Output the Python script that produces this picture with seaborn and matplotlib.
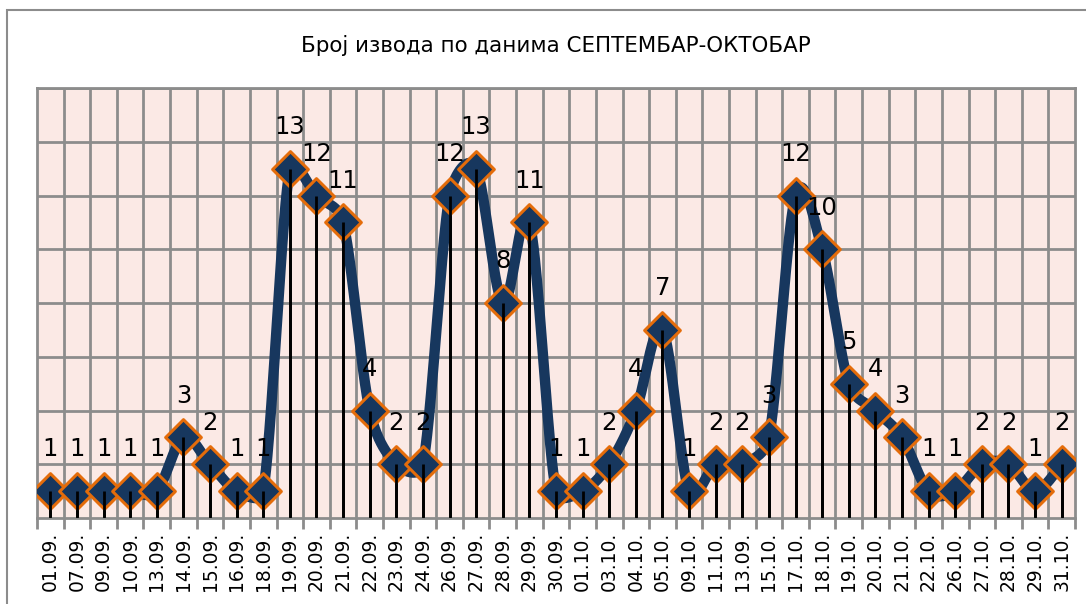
import numpy as np
import pandas as pd
import matplotlib
matplotlib.use('Agg')
import matplotlib.pyplot as plt
import seaborn as sns
from matplotlib.patches import Rectangle

# Dates and number of extracts per day
dates = ['01.09.', '07.09.', '09.09.', '10.09.', '13.09.', '14.09.', '15.09.', '16.09.',
         '18.09.', '19.09.', '20.09.', '21.09.', '22.09.', '23.09.', '24.09.', '26.09.',
         '27.09.', '28.09.', '29.09.', '30.09.', '01.10.', '03.10.', '04.10.', '05.10.',
         '09.10.', '11.10.', '13.09.', '15.10.', '17.10.', '18.10.', '19.10.', '20.10.',
         '21.10.', '22.10.', '26.10.', '27.10.', '28.10.', '29.10.', '31.10.']
counts = [1, 1, 1, 1, 1, 3, 2, 1, 1, 13, 12, 11, 4, 2, 2, 12, 13, 8, 11, 1,
          1, 2, 4, 7, 1, 2, 2, 3, 12, 10, 5, 4, 3, 1, 1, 2, 2, 1, 2]

title = 'Број извода по данима СЕПТЕМБАР-ОКТОБАР'

navy = '#17375E'
orange = '#E46C0A'
grid_gray = '#8C8C8C'
bg_pink = '#FBE9E5'


# Excel-like smoothed line: cubic bezier, tension 1/6, arms capped at half the segment
def smooth_curve(xs, ys, kx, ky, steps=40):
    pts = np.column_stack([np.asarray(xs) * kx, np.asarray(ys) * ky]).astype(float)
    n = len(pts)
    out = []
    for i in range(n - 1):
        p0 = pts[max(i - 1, 0)]
        p1 = pts[i]
        p2 = pts[i + 1]
        p3 = pts[min(i + 2, n - 1)]
        d12 = np.linalg.norm(p2 - p1)
        d02 = np.linalg.norm(p2 - p0)
        d13 = np.linalg.norm(p3 - p1)
        f1 = 1 / 6 if d02 / 6 < d12 / 2 else d12 / (2 * d02)
        f2 = 1 / 6 if d13 / 6 < d12 / 2 else d12 / (2 * d13)
        c1 = p1 + (p2 - p0) * f1
        c2 = p2 - (p3 - p1) * f2
        t = np.linspace(0, 1, steps)[:, None]
        seg = ((1 - t) ** 3) * p1 + 3 * ((1 - t) ** 2) * t * c1 + 3 * (1 - t) * t ** 2 * c2 + t ** 3 * p2
        out.append(seg if i == 0 else seg[1:])
    out = np.vstack(out)
    return out[:, 0] / kx, out[:, 1] / ky


df = pd.DataFrame({'pos': np.arange(len(dates)), 'date': dates, 'count': counts})

sns.set_style('white')
plt.rcParams['font.family'] = ['DejaVu Sans']
plt.rcParams['text.color'] = 'black'
plt.rcParams['xtick.color'] = 'black'
plt.rcParams['xtick.labelcolor'] = 'black'

fig = plt.figure(figsize=(10.86, 6.04), dpi=100)
ax = fig.add_axes([37 / 1086, 1 - 518 / 604, (1075 - 37) / 1086, (518 - 88) / 604])
ax.set_facecolor(bg_pink)

# outer chart border
fig.patches.append(Rectangle((7 / 1086, -0.05), 1.1, 1 - 10 / 604 + 0.05,
                             transform=fig.transFigure, fill=False,
                             edgecolor='#8C8C8C', linewidth=1.5, zorder=0))

# grid
for yv in np.arange(2, 17, 2):
    ax.axhline(yv, color=grid_gray, linewidth=2, zorder=1)
for xv in np.arange(0.5, len(dates) - 0.5, 1):
    ax.axvline(xv, color=grid_gray, linewidth=2, zorder=1)

# drop lines
ax.vlines(df['pos'], 0, df['count'], color='black', linewidth=2, zorder=2)

# smoothed line (pixels per unit: x 1038/39, y 430/16)
sx, sy = smooth_curve(df['pos'], df['count'], 1038 / 39, 430 / 16)
ax.plot(sx, sy, color=navy, linewidth=7.5, solid_capstyle='round', zorder=3)

# markers
sns.scatterplot(data=df, x='pos', y='count', marker='D', s=330, color=navy,
                edgecolor=orange, linewidth=2.2, zorder=4, ax=ax, legend=False)
ax.vlines(df['pos'], 0, df['count'], color='black', linewidth=2, zorder=5)

# data labels
for p, c in zip(df['pos'], df['count']):
    ax.annotate(str(c), (p, c), xytext=(0, 30), textcoords='offset points',
                ha='center', va='center', fontsize=17.5, color='black', zorder=6)

ax.set_xlim(-0.5, len(dates) - 0.5)
ax.set_ylim(0, 16)
ax.set_yticks([])
ax.set_xticks(df['pos'])
ax.set_xticklabels(dates, rotation=90, fontsize=13.5, color='black')
ax.set_xticks(np.arange(-0.5, len(dates), 1), minor=True)
ax.tick_params(axis='x', which='major', length=0, pad=10)
ax.tick_params(axis='x', which='minor', length=8, width=2, color=grid_gray, bottom=True)
ax.set_xlabel('')
ax.set_ylabel('')
for side in ['top', 'right', 'left', 'bottom']:
    ax.spines[side].set_color(grid_gray)
    ax.spines[side].set_linewidth(2)

fig.text((37 + 1075) / 2 / 1086, 1 - 45 / 604, title, ha='center', va='center',
         fontsize=15.4, color='black')

fig.savefig('out.png', dpi=100)
